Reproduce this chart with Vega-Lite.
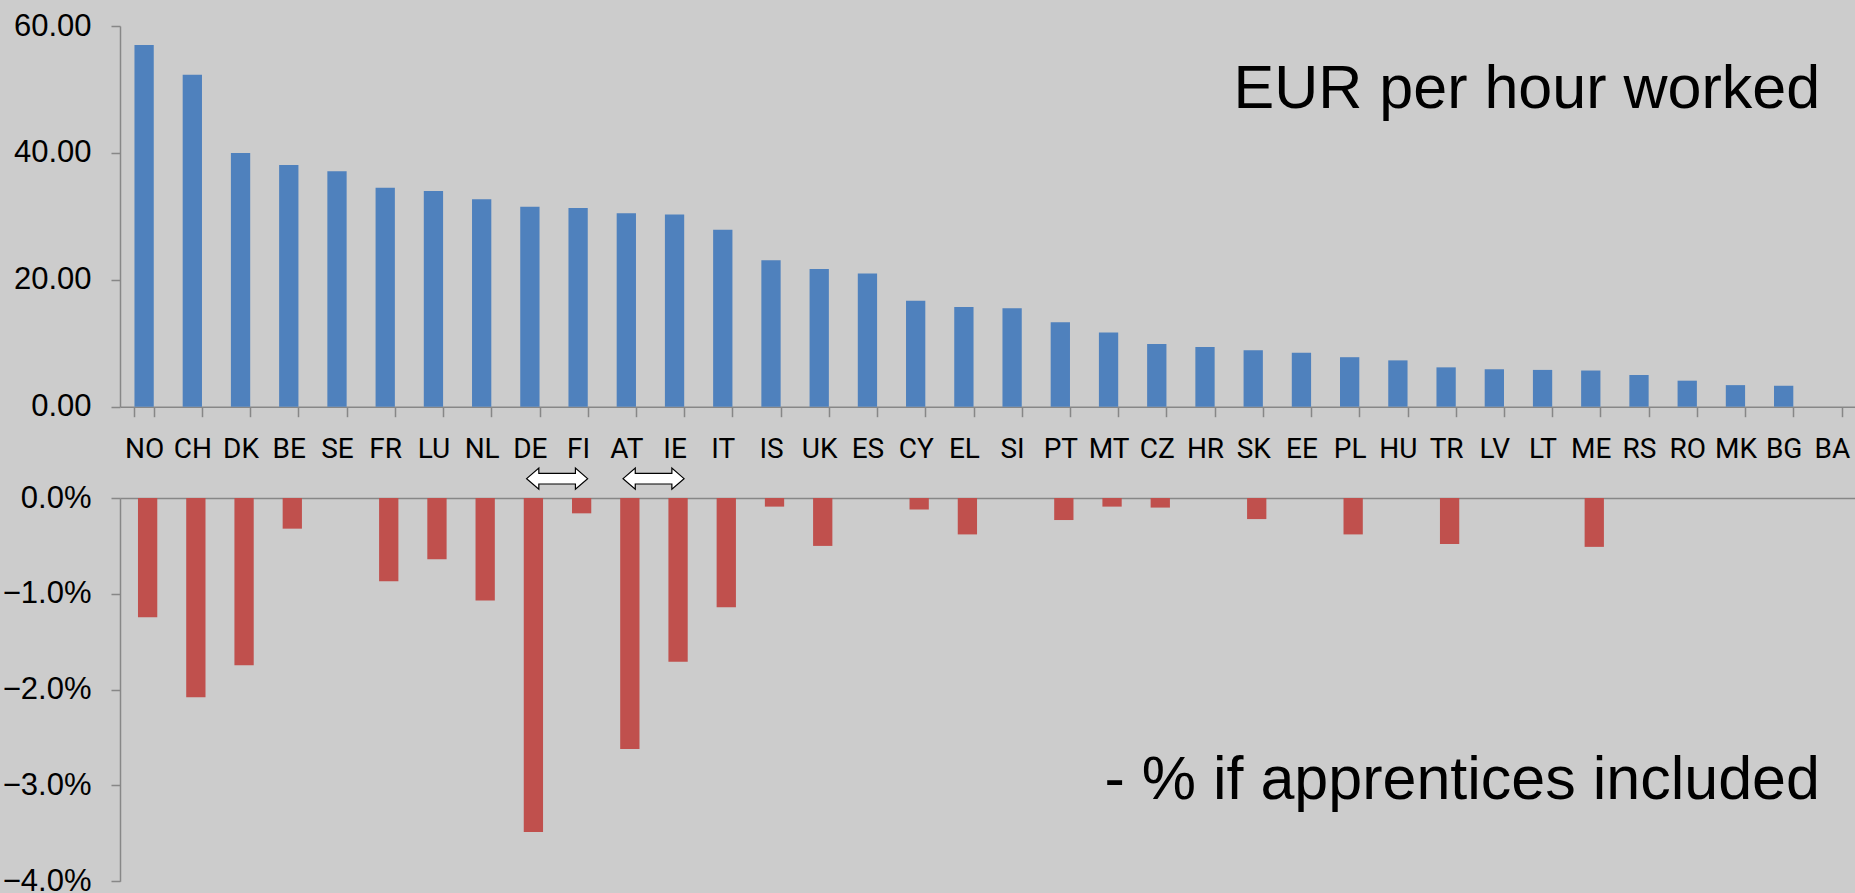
{
  "$schema": "https://vega.github.io/schema/vega-lite/v6.json",
  "background": "#cccccc",
  "padding": {"left": 2, "top": 10, "right": 0, "bottom": 0},
  "spacing": 91,
  "bounds": "flush",
  "config": {
    "view": {"stroke": null},
    "axis": {"domainColor": "#878787", "tickColor": "#878787", "domainWidth": 1.5, "tickWidth": 1.5, "grid": false, "labelColor": "#000000", "title": null}
  },
  "datasets": {
    "pay": [
      {"country": "NO", "eur": 57.0, "pct": -0.01245},
      {"country": "CH", "eur": 52.3, "pct": -0.0208},
      {"country": "DK", "eur": 40.0, "pct": -0.01746},
      {"country": "BE", "eur": 38.1, "pct": -0.0032},
      {"country": "SE", "eur": 37.1, "pct": null},
      {"country": "FR", "eur": 34.5, "pct": -0.0087},
      {"country": "LU", "eur": 34.0, "pct": -0.0064},
      {"country": "NL", "eur": 32.7, "pct": -0.0107},
      {"country": "DE", "eur": 31.5, "pct": -0.03485},
      {"country": "FI", "eur": 31.3, "pct": -0.0016},
      {"country": "AT", "eur": 30.5, "pct": -0.0262},
      {"country": "IE", "eur": 30.3, "pct": -0.0171},
      {"country": "IT", "eur": 27.9, "pct": -0.0114},
      {"country": "IS", "eur": 23.1, "pct": -0.0009},
      {"country": "UK", "eur": 21.7, "pct": -0.005},
      {"country": "ES", "eur": 21.0, "pct": null},
      {"country": "CY", "eur": 16.7, "pct": -0.0012},
      {"country": "EL", "eur": 15.7, "pct": -0.0038},
      {"country": "SI", "eur": 15.5, "pct": null},
      {"country": "PT", "eur": 13.3, "pct": -0.0023},
      {"country": "MT", "eur": 11.7, "pct": -0.0009},
      {"country": "CZ", "eur": 9.9, "pct": -0.001},
      {"country": "HR", "eur": 9.4, "pct": null},
      {"country": "SK", "eur": 8.9, "pct": -0.0022},
      {"country": "EE", "eur": 8.5, "pct": null},
      {"country": "PL", "eur": 7.8, "pct": -0.0038},
      {"country": "HU", "eur": 7.3, "pct": null},
      {"country": "TR", "eur": 6.2, "pct": -0.0048},
      {"country": "LV", "eur": 5.9, "pct": null},
      {"country": "LT", "eur": 5.8, "pct": null},
      {"country": "ME", "eur": 5.7, "pct": -0.0051},
      {"country": "RS", "eur": 5.0, "pct": null},
      {"country": "RO", "eur": 4.1, "pct": null},
      {"country": "MK", "eur": 3.4, "pct": null},
      {"country": "BG", "eur": 3.3, "pct": null},
      {"country": "BA", "eur": null, "pct": null}
    ],
    "note_top": [{"country": "BA", "value": 47.0, "label": "EUR per hour worked"}],
    "note_bottom": [{"country": "BA", "value": -0.03137, "label": "- % if apprentices included"}],
    "arrows": [{"from": "DE", "y": 0.00202}, {"from": "AT", "y": 0.00202}]
  },
  "vconcat": [
    {
      "width": 1736,
      "height": 380.7,
      "layer": [
        {
          "data": {"name": "pay"},
          "mark": {"type": "bar", "color": "#4f81bd"},
          "encoding": {
            "x": {
              "field": "country", "type": "nominal", "sort": null,
              "scale": {"domain": ["NO","CH","DK","BE","SE","FR","LU","NL","DE","FI","AT","IE","IT","IS","UK","ES","CY","EL","SI","PT","MT","CZ","HR","SK","EE","PL","HU","TR","LV","LT","ME","RS","RO","MK","BG","BA"], "paddingInner": 0.6, "paddingOuter": 0.3},
              "axis": {"orient": "bottom", "labelAngle": 0, "labelFont": "Roboto", "labelFontSize": 28, "labelPadding": 19, "tickSize": 10, "tickBand": "extent", "labelOverlap": false}
            },
            "y": {
              "field": "eur", "type": "quantitative",
              "scale": {"domain": [0, 60], "nice": false},
              "axis": {"values": [0, 20, 40, 60], "format": ".2f", "labelFont": "Liberation Sans", "labelFontSize": 31, "tickSize": 9, "labelPadding": 20}
            }
          }
        },
        {
          "data": {"name": "note_top"},
          "mark": {"type": "text", "align": "right", "baseline": "alphabetic", "font": "Liberation Sans", "fontSize": 61, "color": "#000000"},
          "encoding": {
            "x": {"field": "country", "type": "nominal", "bandPosition": -0.11},
            "y": {"field": "value", "type": "quantitative"},
            "text": {"field": "label"}
          }
        }
      ]
    },
    {
      "width": 1743,
      "height": 383.3,
      "layer": [
        {
          "data": {"name": "pay"},
          "mark": {"type": "bar", "color": "#c0504d"},
          "encoding": {
            "x": {
              "field": "country", "type": "nominal", "sort": null,
              "scale": {"domain": ["NO","CH","DK","BE","SE","FR","LU","NL","DE","FI","AT","IE","IT","IS","UK","ES","CY","EL","SI","PT","MT","CZ","HR","SK","EE","PL","HU","TR","LV","LT","ME","RS","RO","MK","BG","BA"], "paddingInner": 0.6, "paddingOuter": 0.373},
              "axis": {"orient": "top", "labels": false, "ticks": false, "domain": true}
            },
            "y": {
              "field": "pct", "type": "quantitative",
              "scale": {"domain": [-0.04, 0], "nice": false},
              "axis": {"values": [-0.04, -0.03, -0.02, -0.01, 0], "format": ".1%", "labelFont": "Liberation Sans", "labelFontSize": 31, "tickSize": 9, "labelPadding": 20}
            }
          }
        },
        {
          "data": {"name": "arrows"},
          "mark": {"type": "point", "shape": "M -1 0 L -0.6 -0.344 L -0.6 -0.175 L 0.6 -0.175 L 0.6 -0.344 L 1 0 L 0.6 0.344 L 0.6 0.175 L -0.6 0.175 L -0.6 0.344 Z", "size": 3721, "filled": true, "fill": "#ffffff", "stroke": "#000000", "strokeWidth": 1.2, "opacity": 1},
          "encoding": {
            "x": {"field": "from", "type": "nominal", "bandPosition": 1.73},
            "y": {"field": "y", "type": "quantitative"}
          }
        },
        {
          "data": {"name": "note_bottom"},
          "mark": {"type": "text", "align": "right", "baseline": "alphabetic", "font": "Liberation Sans", "fontSize": 61, "color": "#000000"},
          "encoding": {
            "x": {"field": "country", "type": "nominal", "bandPosition": -0.3},
            "y": {"field": "value", "type": "quantitative"},
            "text": {"field": "label"}
          }
        }
      ]
    }
  ]
}
